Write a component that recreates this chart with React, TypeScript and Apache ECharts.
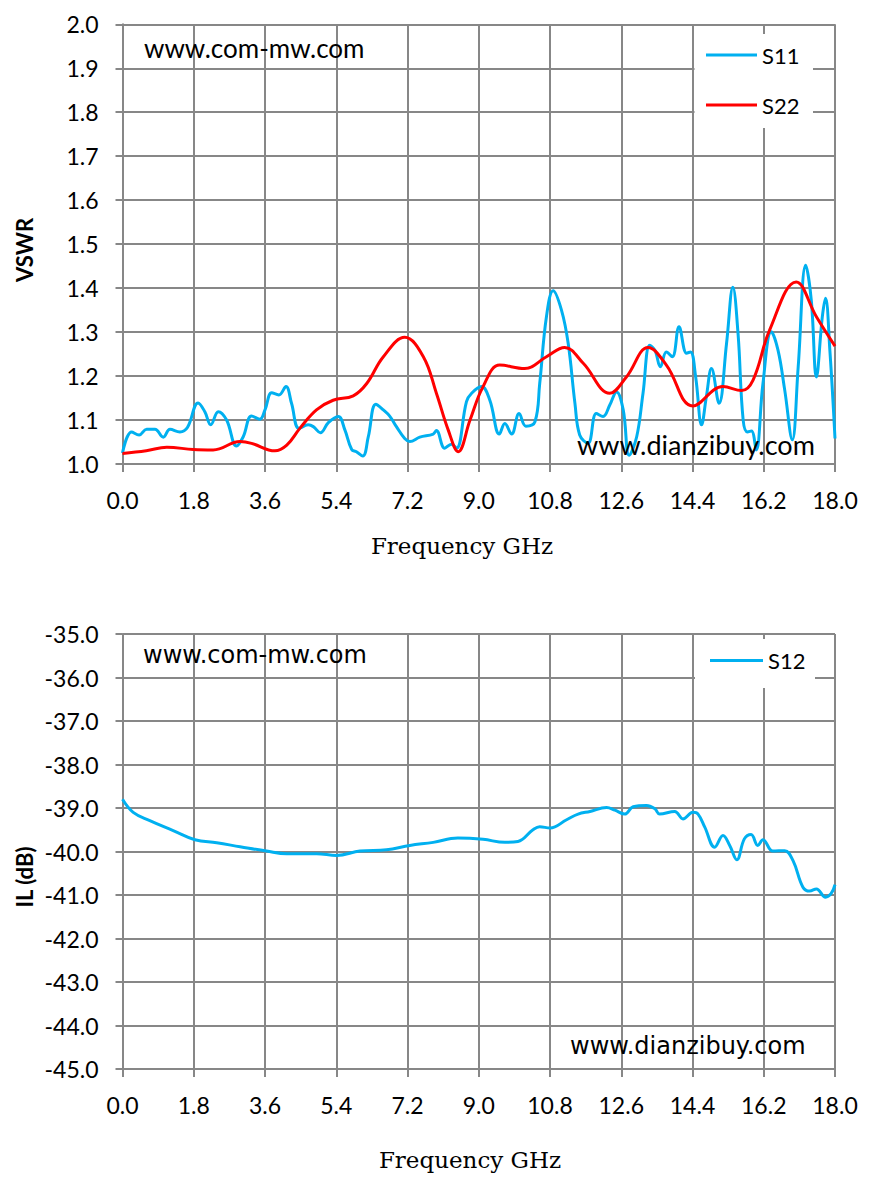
import React, { useEffect, useRef } from "react";
import * as echarts from "echarts";

// VSWR S11 (GHz, ratio)
const s11Freq = [0.0, 0.23, 0.42, 0.61, 0.82, 1.03, 1.2, 1.45, 1.64, 1.91, 2.08, 2.23, 2.42, 2.63, 2.88, 3.05, 3.26, 3.47, 3.6, 3.77, 3.95, 4.13, 4.27, 4.46, 4.69, 4.82, 5.0, 5.2, 5.45, 5.62, 5.79, 5.91, 6.07, 6.21, 6.4, 6.59, 6.75, 6.92, 7.13, 7.26, 7.51, 7.85, 7.93, 8.14, 8.31, 8.44, 8.69, 8.82, 9.07, 9.28, 9.52, 9.66, 9.83, 10.02, 10.19, 10.42, 10.54, 10.71, 10.88, 11.09, 11.26, 11.43, 11.55, 11.76, 11.97, 12.14, 12.31, 12.48, 12.65, 12.8, 12.99, 13.15, 13.32, 13.45, 13.59, 13.74, 13.89, 14.06, 14.25, 14.35, 14.48, 14.63, 14.75, 14.88, 15.07, 15.26, 15.42, 15.55, 15.68, 15.79, 15.89, 16.01, 16.18, 16.39, 16.56, 16.73, 16.92, 17.07, 17.26, 17.4, 17.53, 17.68, 17.76, 17.87, 18.0];
const s11Vswr = [1.025, 1.073, 1.066, 1.079, 1.079, 1.061, 1.079, 1.073, 1.083, 1.139, 1.119, 1.089, 1.119, 1.1, 1.041, 1.062, 1.109, 1.102, 1.123, 1.162, 1.157, 1.176, 1.138, 1.081, 1.089, 1.085, 1.071, 1.094, 1.108, 1.077, 1.033, 1.028, 1.018, 1.062, 1.136, 1.123, 1.109, 1.085, 1.058, 1.051, 1.061, 1.068, 1.076, 1.036, 1.045, 1.036, 1.142, 1.161, 1.176, 1.145, 1.068, 1.092, 1.068, 1.115, 1.086, 1.096, 1.183, 1.335, 1.394, 1.35, 1.274, 1.138, 1.066, 1.047, 1.115, 1.108, 1.134, 1.164, 1.123, 1.02, 1.062, 1.161, 1.27, 1.259, 1.221, 1.255, 1.244, 1.312, 1.252, 1.255, 1.198, 1.089, 1.153, 1.217, 1.138, 1.274, 1.402, 1.297, 1.1, 1.073, 1.075, 1.032, 1.183, 1.301, 1.259, 1.168, 1.055, 1.221, 1.452, 1.373, 1.198, 1.335, 1.377, 1.259, 1.058];

// VSWR S22
const s22Freq = [0, 0.6, 1.12, 1.79, 2.29, 2.97, 3.26, 3.85, 4.15, 4.48, 4.9, 5.32, 5.83, 6.17, 6.59, 7.13, 7.6, 7.93, 8.23, 8.48, 8.78, 9.11, 9.53, 10.16, 10.71, 11.17, 11.64, 12.31, 12.73, 13.28, 13.74, 14.41, 15.17, 15.64, 15.93, 16.35, 17.02, 17.53, 18.0];
const s22Vswr = [1.024, 1.03, 1.038, 1.033, 1.032, 1.051, 1.047, 1.03, 1.043, 1.081, 1.123, 1.145, 1.155, 1.183, 1.244, 1.288, 1.244, 1.161, 1.077, 1.028, 1.1, 1.176, 1.225, 1.217, 1.244, 1.265, 1.229, 1.161, 1.198, 1.265, 1.225, 1.132, 1.176, 1.167, 1.191, 1.305, 1.414, 1.335, 1.268];

// insertion loss S12 (dB)
const s12Freq = [0, 0.27, 0.69, 1.28, 1.83, 2.38, 2.97, 3.64, 4.15, 4.9, 5.41, 6.0, 6.67, 7.26, 7.85, 8.47, 9.11, 9.66, 9.99, 10.37, 10.54, 10.8, 11.22, 11.51, 11.81, 12.23, 12.44, 12.69, 12.9, 13.24, 13.45, 13.57, 13.95, 14.16, 14.41, 14.54, 14.71, 14.96, 15.17, 15.34, 15.52, 15.71, 15.88, 16.05, 16.18, 16.43, 16.73, 16.94, 17.19, 17.36, 17.53, 17.76, 17.9, 18.0];
const s12IL = [-38.8, -39.1, -39.29, -39.52, -39.73, -39.8, -39.89, -39.99, -40.05, -40.05, -40.09, -39.99, -39.96, -39.86, -39.79, -39.69, -39.72, -39.79, -39.77, -39.5, -39.43, -39.46, -39.27, -39.14, -39.08, -38.99, -39.05, -39.14, -38.97, -38.94, -39.02, -39.14, -39.08, -39.25, -39.1, -39.14, -39.44, -39.9, -39.63, -39.86, -40.19, -39.71, -39.61, -39.86, -39.73, -39.99, -39.98, -40.21, -40.82, -40.91, -40.86, -41.05, -40.97, -40.76];

const GRID = "#878787";
const BLUE = "#00B0F0";
const RED = "#FF0000";
const tickFont = "Lato";

const zip = (xs: number[], ys: number[]) => xs.map((x, i) => [x, ys[i]]);

const xAxisCfg = (gridIndex: number) => ({
  type: "value" as const,
  gridIndex,
  min: 0,
  max: 18,
  interval: 1.8,
  axisLine: { show: true, lineStyle: { color: GRID, width: 2 } },
  axisTick: { show: true, length: 8, lineStyle: { color: GRID, width: 2 } },
  splitLine: { show: true, lineStyle: { color: GRID, width: 2 } },
  axisLabel: {
    margin: 24,
    color: "#000",
    fontFamily: tickFont,
    fontSize: 23,
    formatter: (v: number) => v.toFixed(1),
  },
});

const yAxisCfg = (gridIndex: number, min: number, max: number, interval: number) => ({
  type: "value" as const,
  gridIndex,
  min,
  max,
  interval,
  axisLine: { show: true, lineStyle: { color: GRID, width: 2 } },
  axisTick: { show: true, length: 7, lineStyle: { color: GRID, width: 2 } },
  splitLine: { show: true, lineStyle: { color: GRID, width: 2 } },
  axisLabel: {
    margin: 24,
    color: "#000",
    fontFamily: tickFont,
    fontSize: 23,
    formatter: (v: number) => v.toFixed(1),
  },
});

const lineSeries = (name: string, color: string, data: number[][], axis: number) => ({
  name,
  type: "line" as const,
  xAxisIndex: axis,
  yAxisIndex: axis,
  data,
  smooth: 0.4,
  symbol: "none",
  z: 3,
  lineStyle: { color, width: 3 },
  itemStyle: { color },
});

const legendText = { fontFamily: tickFont, fontSize: 22, lineHeight: 20, color: "#000" };

export default function App() {
  const chartRef = useRef<HTMLDivElement>(null);

  useEffect(() => {
    if (!chartRef.current) return;
    const chart = echarts.init(chartRef.current, undefined, { renderer: "svg" });

    chart.setOption({
      animation: false,
      backgroundColor: "#fff",
      grid: [
        { left: 122.5, top: 24.3, width: 712.5, height: 439.7 },
        { left: 122.5, top: 634, width: 712.5, height: 435 },
      ],
      xAxis: [xAxisCfg(0), xAxisCfg(1)],
      yAxis: [yAxisCfg(0, 1, 2, 0.1), yAxisCfg(1, -45, -35, 1)],
      legend: [
        {
          data: ["S11", "S22"],
          orient: "vertical",
          left: 706,
          top: 44,
          padding: 0,
          icon: "rect",
          itemWidth: 51,
          itemHeight: 3,
          itemGap: 28,
          textStyle: legendText,
        },
        {
          data: ["S12"],
          orient: "vertical",
          left: 710,
          top: 649.5,
          padding: 0,
          icon: "rect",
          itemWidth: 53,
          itemHeight: 3,
          textStyle: legendText,
        },
      ],
      graphic: [
        { type: "rect", z: 1, shape: { x: 694.5, y: 34, width: 118.5, height: 94 }, style: { fill: "#fff" } },
        { type: "rect", z: 1, shape: { x: 695, y: 639, width: 120, height: 49 }, style: { fill: "#fff" } },
        {
          type: "text", z: 5, x: 144, y: 48,
          style: { text: "www.com-mw.com", font: `26px ${tickFont}`, fill: "#000", verticalAlign: "middle" },
        },
        {
          type: "text", z: 5, x: 577, y: 444,
          style: { text: "www.dianzibuy.com", font: `27px ${tickFont}`, fill: "#000", verticalAlign: "middle" },
        },
        {
          type: "text", z: 5, x: 143, y: 655,
          style: { text: "www.com-mw.com", font: "24px 'DejaVu Sans'", fill: "#000", verticalAlign: "middle" },
        },
        {
          type: "text", z: 5, x: 570, y: 1046,
          style: { text: "www.dianzibuy.com", font: "24px 'DejaVu Sans'", fill: "#000", verticalAlign: "middle" },
        },
        {
          type: "text", z: 5, x: 462, y: 546,
          style: { text: "Frequency GHz", font: "23px 'DejaVu Serif'", fill: "#000", align: "center", verticalAlign: "middle" },
        },
        {
          type: "text", z: 5, x: 470, y: 1160,
          style: { text: "Frequency GHz", font: "23px 'DejaVu Serif'", fill: "#000", align: "center", verticalAlign: "middle" },
        },
        {
          type: "text", z: 5, x: 24, y: 250, rotation: Math.PI / 2,
          style: { text: "VSWR", font: `bold 22px ${tickFont}`, fill: "#000", align: "center", verticalAlign: "middle" },
        },
        {
          type: "text", z: 5, x: 24, y: 877, rotation: Math.PI / 2,
          style: { text: "IL (dB)", font: `bold 22px ${tickFont}`, fill: "#000", align: "center", verticalAlign: "middle" },
        },
      ],
      series: [
        lineSeries("S11", BLUE, zip(s11Freq, s11Vswr), 0),
        lineSeries("S22", RED, zip(s22Freq, s22Vswr), 0),
        lineSeries("S12", BLUE, zip(s12Freq, s12IL), 1),
      ],
    });

    return () => {
      chart.dispose();
    };
  }, []);

  return (
    <div
      ref={chartRef}
      style={{ position: "absolute", left: 0, top: 0, width: 873, height: 1183 }}
    />
  );
}
